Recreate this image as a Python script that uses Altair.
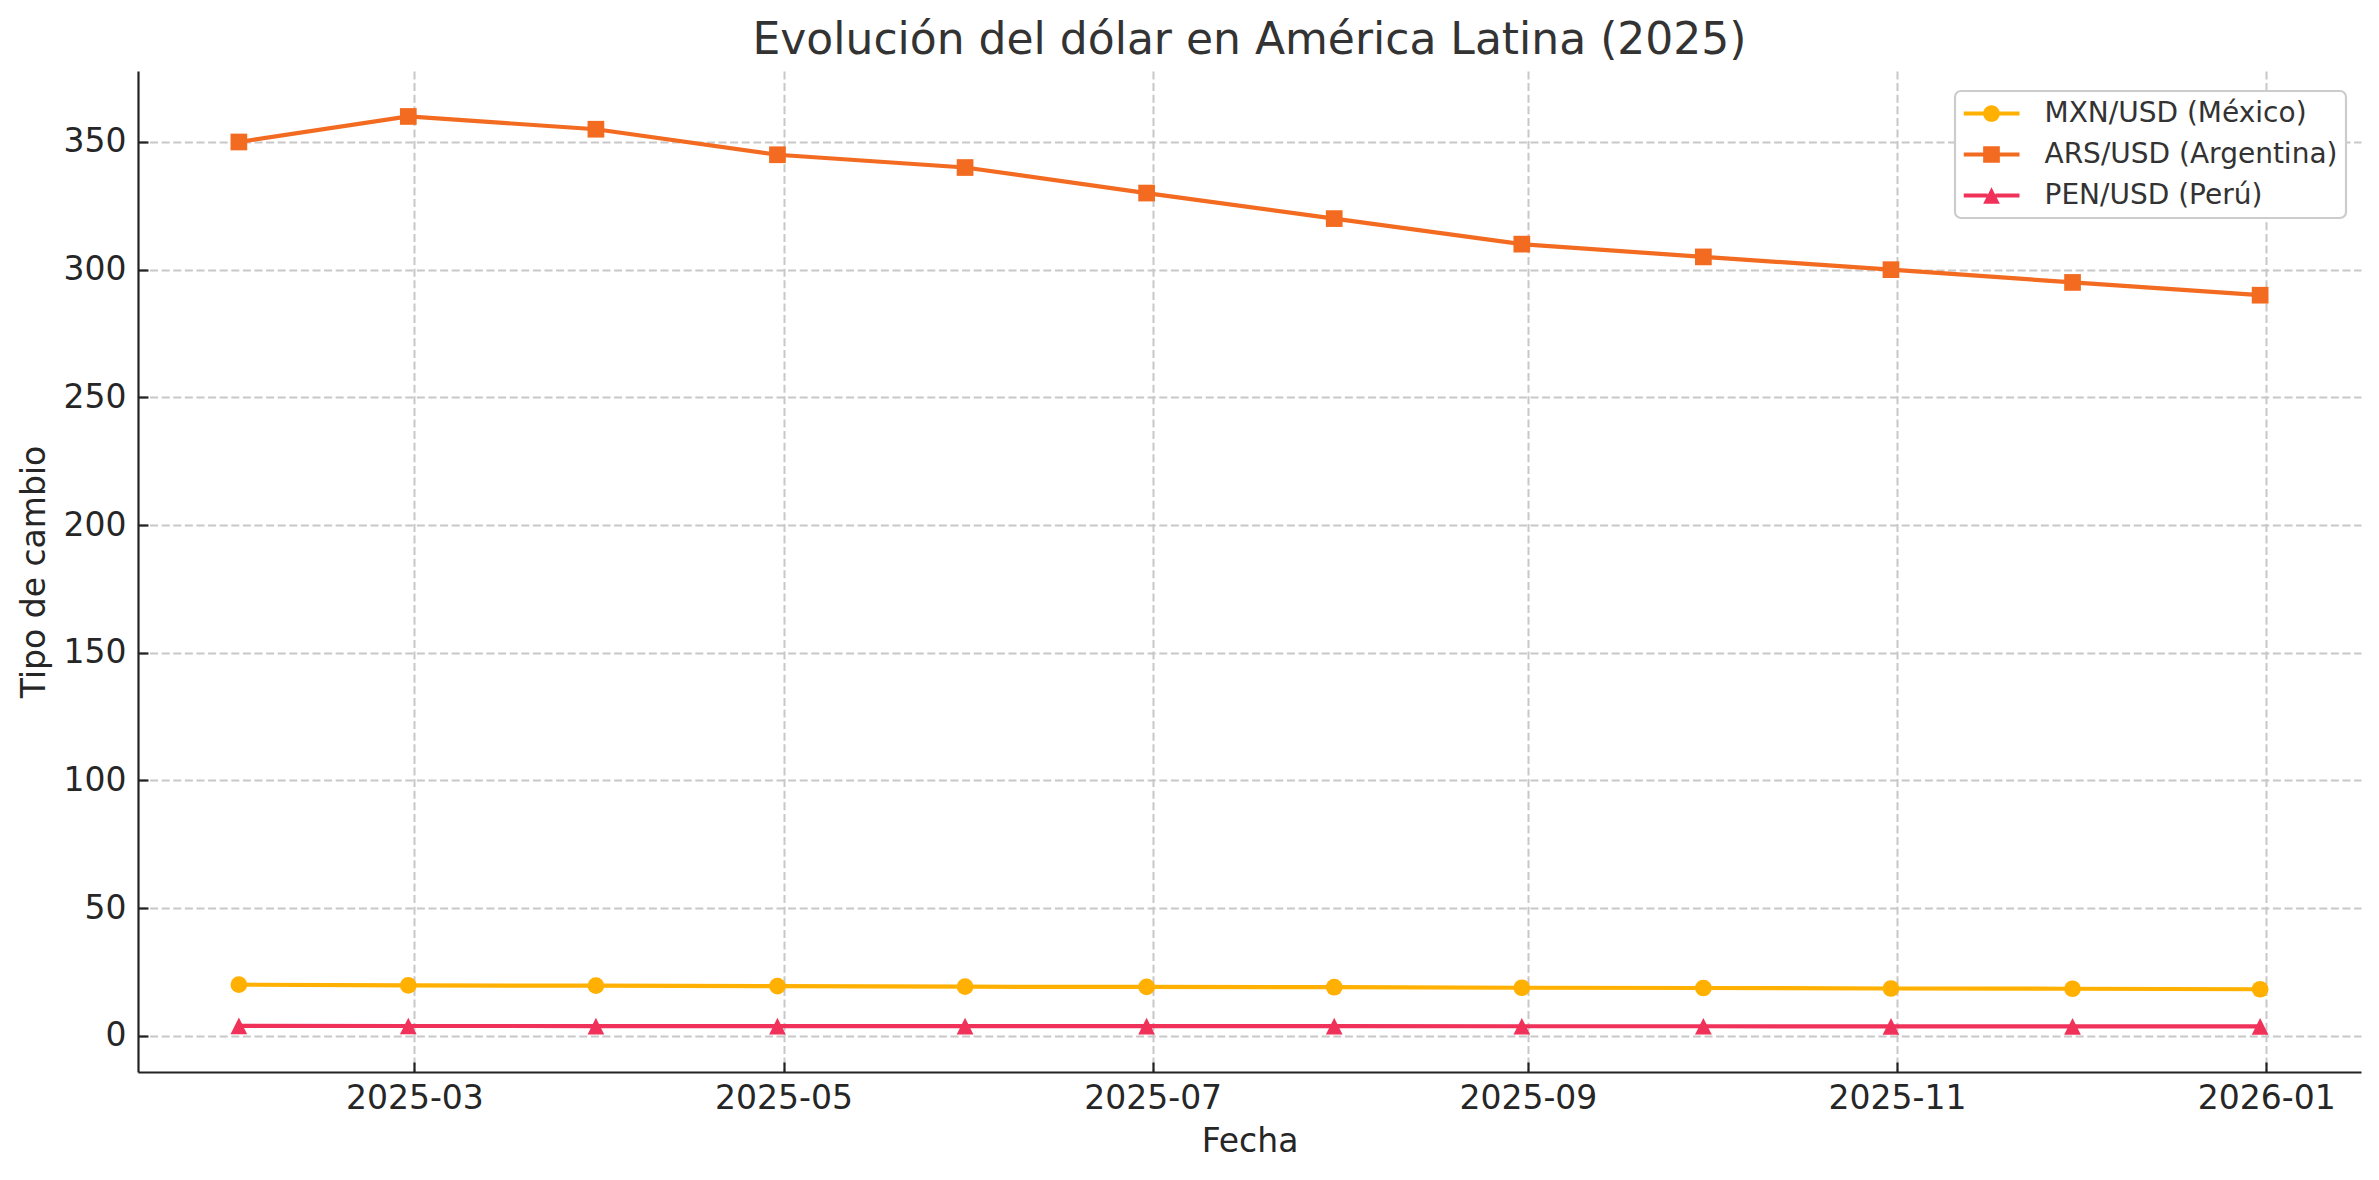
import altair as alt
import pandas as pd

# ---------------- data ----------------
fechas = ["2025-01-31", "2025-02-28", "2025-03-31", "2025-04-30", "2025-05-31", "2025-06-30",
          "2025-07-31", "2025-08-31", "2025-09-30", "2025-10-31", "2025-11-30", "2025-12-31"]
mxn = [20.0, 19.7, 19.6, 19.4, 19.2, 19.1, 19.0, 18.8, 18.7, 18.5, 18.4, 18.2]
ars = [350, 360, 355, 345, 340, 330, 320, 310, 305, 300, 295, 290]
pen = [3.85, 3.82, 3.80, 3.78, 3.77, 3.75, 3.74, 3.72, 3.71, 3.70, 3.68, 3.66]
series = ["MXN/USD (México)", "ARS/USD (Argentina)", "PEN/USD (Perú)"]
x_ticks = ["2025-03-01", "2025-05-01", "2025-07-01", "2025-09-01", "2025-11-01", "2026-01-01"]
y_ticks = [0, 50, 100, 150, 200, 250, 300, 350]

# ---------------- styles ----------------
colores = ["#FFB000", "#F26B21", "#F0325A"]
FONT = "DejaVu Sans"
MS = 279  # marker area (16.7 px box)

tri_path = "M0,-1 L1,1 L-1,1 Z"
h = 0.298
bar = lambda e: f"M-1,-0.075 H-{e} V0.075 H-1 Z M{e},-0.075 H1 V0.075 H{e} Z "
legend_paths = [
    bar(0.28) + f"M-{h},0 A{h},{h} 0 1,1 {h},0 A{h},{h} 0 1,1 -{h},0 Z",
    bar(0.28) + f"M-{h},-{h} H{h} V{h} H-{h} Z",
    bar(0.14) + f"M0,-{h} L{h},{h} L-{h},{h} Z",
]
marker_shapes = ["circle", "square", tri_path]

rows = []
for name, vals in zip(series, [mxn, ars, pen]):
    for f, v in zip(fechas, vals):
        rows.append({"fecha": pd.Timestamp(f), "valor": v, "serie": name})
df = pd.DataFrame(rows)


def dt(s):
    t = pd.Timestamp(s)
    return alt.DateTime(year=t.year, month=t.month, date=t.day, hours=t.hour)


x_enc = alt.X(
    "fecha:T",
    title="Fecha",
    scale=alt.Scale(domain=[alt.DateTime(year=2025, month=1, date=14, hours=8),
                            alt.DateTime(year=2026, month=1, date=16, hours=16)]),
    axis=alt.Axis(values=[dt(s) for s in x_ticks], format="%Y-%m", labelFlush=False,
                  labelOverlap=False, tickSize={"expr": "-10"}, labelPadding=20,
                  titlePadding=10),
)
y_enc = alt.Y(
    "valor:Q",
    title="Tipo de cambio",
    scale=alt.Scale(domain=[-14.2, 377.8], nice=False, zero=False),
    axis=alt.Axis(values=y_ticks, tickSize={"expr": "-10"}, labelPadding=22, titlePadding=12),
)

layers = []
for name, col, shp in zip(series, colores, marker_shapes):
    base = alt.Chart(df).transform_filter(alt.datum.serie == name)
    layers.append(base.mark_line(strokeWidth=4.2, color=col).encode(x=x_enc, y=y_enc))
    layers.append(
        base.mark_point(filled=True, opacity=1, size=MS, shape=shp, color=col, strokeWidth=0)
        .encode(x=x_enc, y=y_enc)
    )

leg = dict(orient="none", legendX=1817, legendY=20, title=None, labelLimit=600)
legend_layer = alt.Chart(df).transform_filter("false").mark_point(
    filled=True, opacity=1, strokeWidth=0
).encode(
    x=x_enc, y=y_enc,
    color=alt.Color("serie:N", scale=alt.Scale(domain=series, range=colores),
                    legend=alt.Legend(**leg)),
    shape=alt.Shape("serie:N", scale=alt.Scale(domain=series, range=legend_paths),
                    legend=alt.Legend(**leg)),
)

chart = alt.layer(*layers, legend_layer).properties(
    width=2223,
    height=1001,
    autosize=alt.AutoSizeParams(type="none"),
    padding={"left": 130, "top": 63, "right": 8, "bottom": 90},
    title=alt.TitleParams(
        "Evolución del dólar en América Latina (2025)",
        font=FONT, fontSize=44, fontWeight="normal", color="#333333",
        anchor="middle", offset=8,
    ),
).configure_view(stroke=None).configure_axis(
    labelFont=FONT, labelFontSize=33, labelColor="#262626",
    titleFont=FONT, titleFontSize=33, titleFontWeight="normal", titleColor="#262626",
    domainColor="#222222", domainWidth=2.2, tickColor="#222222", tickWidth=2.2,
    grid=True, gridColor="#c8c8c8", gridDash=[8, 3.6], gridWidth=2,
).configure_legend(
    labelFont=FONT, labelFontSize=28, labelColor="#333333", labelOffset=25, labelLimit=600,
    symbolSize=3136, clipHeight=28, rowPadding=13, padding=8.5,
    strokeColor="#cccccc", strokeWidth=2.2, cornerRadius=6, fillColor="white",
    symbolStrokeWidth=0, symbolOpacity=1,
)

chart.save("out.html", embed_options={"renderer": "svg", "actions": False})
